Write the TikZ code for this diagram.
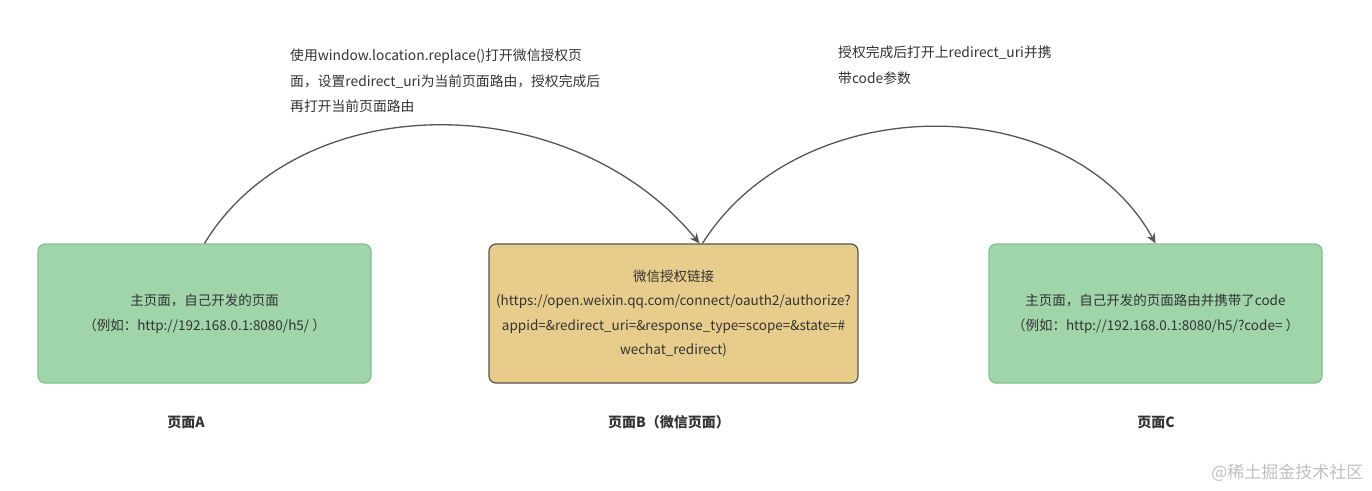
\documentclass[tikz,border=0pt]{standalone}
\usepackage{fontspec}
\setmainfont{Noto Sans CJK SC}
\usetikzlibrary{arrows.meta}
\definecolor{greenfill}{HTML}{A0D4A9}
\definecolor{greenline}{HTML}{7DC48C}
\definecolor{goldfill}{HTML}{E8CC8C}
\definecolor{goldline}{HTML}{555555}
\definecolor{txt}{HTML}{333333}
\definecolor{arr}{HTML}{555555}
\tikzset{
  pagebox/.style={rounded corners=7pt, line width=1.2pt, minimum width=333pt, minimum height=139pt, align=center, text=txt, font=\fontsize{13.5}{25}\selectfont, inner sep=0pt},
  greenbox/.style={pagebox, fill=greenfill, draw=greenline},
  goldbox/.style={pagebox, fill=goldfill, draw=goldline, minimum width=369pt, font=\fontsize{13.5}{24.5}\selectfont},
  caption/.style={font=\fontsize{14}{16}\selectfont\bfseries, text=txt},
  note/.style={font=\fontsize{13.8}{25.5}\selectfont, text=txt, align=left, anchor=north west, inner sep=0pt},
  flow/.style={draw=arr, line width=1.3pt, -{Stealth[length=10pt,width=9pt]}}
}
\begin{document}
\begin{tikzpicture}[x=1pt,y=-1pt]
\useasboundingbox (0,0) rectangle (1372,490);
\node[greenbox] (A) at (204.5,313.5) {主页面，自己开发的页面\\（例如：http://192.168.0.1:8080/h5/ ）};
\node[goldbox] (B) at (673.5,313.5) {微信授权链接\\(https://open.weixin.qq.com/connect/oauth2/authorize?\\appid=\&redirect\_uri=\&response\_type=scope=\&state=\#\\wechat\_redirect)};
\node[greenbox] (C) at (1155.5,313.5) {主页面，自己开发的页面路由并携带了code\\（例如：http://192.168.0.1:8080/h5/?code= ）};
\node[caption] (LA) at (186,422) {页面A};
\node[caption] (LB) at (669,422) {页面B（微信页面）};
\node[caption] (LC) at (1156,422) {页面C};
\node[note] (N1) at (290,49) {使用window.location.replace()打开微信授权页\\面，设置redirect\_uri为当前页面路由，授权完成后\\再打开当前页面路由};
\node[note] (N2) at (838,46) {授权完成后打开上redirect\_uri并携\\带code参数};
\node[font=\fontsize{17}{19}\selectfont, text=black!25, anchor=east] (W) at (1367,473) {@稀土掘金技术社区};
\coordinate (b1) at ([xshift=26pt]B.north);
\coordinate (b2) at ([xshift=29pt]B.north);
\draw[flow] (A.north) .. controls (300,86) and (570,86) .. (b1);
\draw[flow] (b2) .. controls (800,88) and (1070,88) .. (C.north);
\end{tikzpicture}
\end{document}
